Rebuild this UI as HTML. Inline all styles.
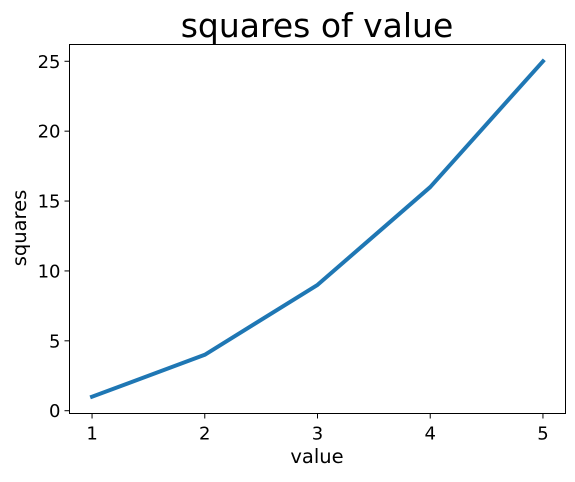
<!DOCTYPE html>
<html><head><meta charset="utf-8"><style>
body{margin:0;background:#fff;}
svg text{font-family:"DejaVu Sans","Liberation Sans",sans-serif;fill:#000;}
</style></head><body>
<svg id="chart" width="575" height="477" xmlns="http://www.w3.org/2000/svg">
<text x="317" y="37" font-size="33" text-anchor="middle">squares of value</text>
<text x="317" y="463" font-size="19.5" text-anchor="middle">value</text>
<text transform="translate(26,228) rotate(-90)" font-size="19.5" text-anchor="middle">squares</text>
<g id="ticks"></g>
<path id="line" fill="none" stroke="#1f77b4" stroke-width="4" stroke-linejoin="round" stroke-linecap="square"/>
<rect x="69.5" y="44.5" width="496" height="369" fill="none" stroke="#000" stroke-width="1"/>
</svg>
<script>
const xValues=[1,2,3,4,5];
const yValues=[1,4,9,16,25];
const xTicks=[1,2,3,4,5];
const yTicks=[0,5,10,15,20,25];
const L=69.5,R=565.5,T=44.5,B=413.5;
const xmin=0.8,xmax=5.2,ymin=-0.2,ymax=26.2;
const sx=v=>L+(v-xmin)/(xmax-xmin)*(R-L);
const sy=v=>B-(v-ymin)/(ymax-ymin)*(B-T);
const ns="http://www.w3.org/2000/svg";
const g=document.getElementById('ticks');
xTicks.forEach(t=>{
 const l=document.createElementNS(ns,'line');
 l.setAttribute('x1',sx(t));l.setAttribute('x2',sx(t));l.setAttribute('y1',B);l.setAttribute('y2',B+5);l.setAttribute('stroke','#000');
 
 
 g.appendChild(l);
 const tx=document.createElementNS(ns,'text');
 tx.setAttribute('x',sx(t));tx.setAttribute('y',B+26);tx.setAttribute('font-size','18');tx.setAttribute('text-anchor','middle');
 tx.textContent=t;
 
 
 g.appendChild(tx);
});
yTicks.forEach(t=>{
 const l=document.createElementNS(ns,'line');
 l.setAttribute('x1',L-5);l.setAttribute('x2',L);l.setAttribute('y1',sy(t));l.setAttribute('y2',sy(t));l.setAttribute('stroke','#000');
 
 
 g.appendChild(l);
 const tx=document.createElementNS(ns,'text');
 tx.setAttribute('x',L-9);tx.setAttribute('y',sy(t)+6.5);tx.setAttribute('font-size','18');tx.setAttribute('text-anchor','end');
 tx.textContent=t;
 
 
 g.appendChild(tx);
});
document.getElementById('line').setAttribute('d',xValues.map((x,i)=>(i?'L':'M')+sx(x)+','+sy(yValues[i])).join(' '));
</script>
</body></html>
